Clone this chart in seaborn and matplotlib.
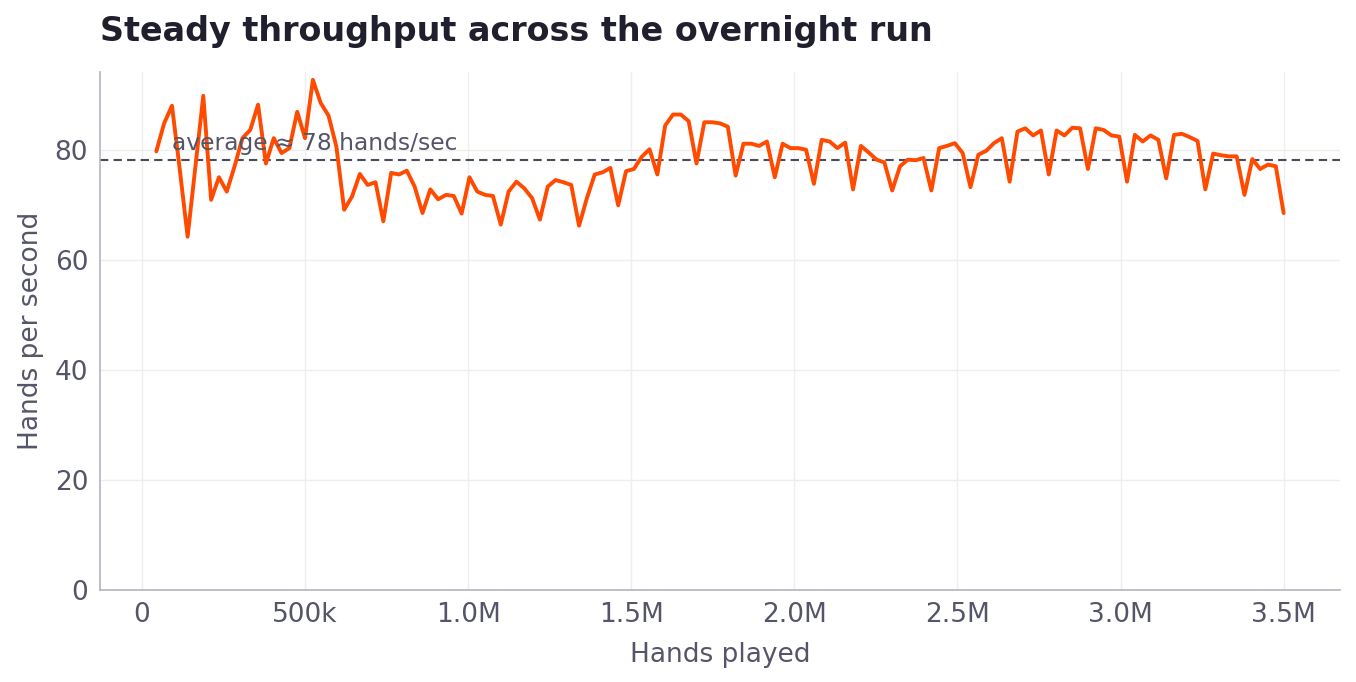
import numpy as np
import pandas as pd
import matplotlib
matplotlib.use("Agg")
import matplotlib.pyplot as plt
from matplotlib.ticker import FuncFormatter
import seaborn as sns

# Hands played (x) — evenly spaced samples
hands = np.arange(44_000, 3_500_001, 24_000)

# Hands per second (y)
throughput = [
    79.7, 84.8, 88.0, 76.4, 64.2, 77.0, 89.8, 70.9, 75.0, 72.4,
    77.0, 82.1, 83.6, 88.2, 77.5, 82.1, 79.4, 80.3, 86.9, 82.1,
    92.7, 88.5, 86.2, 80.6, 69.1, 71.5, 75.6, 73.6, 74.1, 67.0,
    75.8, 75.5, 76.2, 73.3, 68.5, 72.8, 71.0, 71.8, 71.6, 68.4,
    75.0, 72.4, 71.8, 71.6, 66.4, 72.4, 74.2, 73.0, 71.2, 67.3,
    73.3, 74.5, 74.1, 73.6, 66.2, 71.2, 75.5, 75.9, 76.7, 69.9,
    76.1, 76.5, 78.7, 80.1, 75.5, 84.4, 86.4, 86.4, 85.2, 77.5,
    85.0, 85.0, 84.8, 84.2, 75.3, 81.1, 81.1, 80.7, 81.5, 75.0,
    81.1, 80.3, 80.3, 80.0, 73.8, 81.8, 81.5, 80.3, 81.3, 72.8,
    80.7, 79.5, 78.2, 77.7, 72.6, 77.0, 78.2, 78.1, 78.5, 72.6,
    80.3, 80.7, 81.2, 79.4, 73.2, 79.1, 79.8, 81.2, 82.1, 74.2,
    83.3, 83.9, 82.6, 83.5, 75.5, 83.5, 82.6, 84.0, 83.9, 76.5,
    83.9, 83.6, 82.6, 82.4, 74.2, 82.7, 81.5, 82.6, 81.8, 74.8,
    82.7, 82.9, 82.3, 81.6, 72.8, 79.3, 79.0, 78.8, 78.8, 71.8,
    78.3, 76.5, 77.3, 77.0, 68.5,
]

title_text = "Steady throughput across the overnight run"
x_label = "Hands played"
y_label = "Hands per second"

df = pd.DataFrame({"hands": hands, "rate": throughput})
avg = float(np.mean(throughput))

sns.set_theme(style="whitegrid")
plt.rcParams["font.family"] = ["DejaVu Sans"]

TEXT = "#55556a"
TITLE = "#1f1f2e"
LINE = "#ff4a00"
SPINE = "#b4b4be"

fig, ax = plt.subplots(figsize=(13.56, 6.82), dpi=100)
fig.subplots_adjust(left=0.0737, right=0.9882, top=0.8944, bottom=0.1349)

sns.lineplot(data=df, x="hands", y="rate", ax=ax, color=LINE, linewidth=2.8)

ax.axhline(avg, color="#4a4a5e", linestyle=(0, (4, 2.5)), linewidth=1.5, zorder=1)
ax.text(92_000, avg + 1.0, f"average \u2248 {avg:.0f} hands/sec", color=TEXT,
        fontsize=16.8, ha="left", va="bottom")

ax.set_ylim(bottom=0)

def fmt(v, pos):
    if v == 0:
        return "0"
    if abs(v) >= 1_000_000:
        return f"{v/1e6:.1f}M"
    return f"{v/1e3:.0f}k"

ax.xaxis.set_major_formatter(FuncFormatter(fmt))
ax.set_xticks(np.arange(0, 3_500_001, 500_000))

ax.set_title(title_text, loc="left", fontsize=24, fontweight="bold", color=TITLE, pad=22)
ax.set_xlabel(x_label, fontsize=19, color=TEXT, labelpad=10)
ax.set_ylabel(y_label, fontsize=19, color=TEXT, labelpad=8)

ax.tick_params(axis="both", labelsize=19, colors=TEXT, length=5, width=1.2, color=SPINE)
ax.grid(True, color="#eeeeee", linewidth=1)
for s in ["top", "right"]:
    ax.spines[s].set_visible(False)
for s in ["left", "bottom"]:
    ax.spines[s].set_color(SPINE)
    ax.spines[s].set_linewidth(1.2)

fig.savefig("out.png", dpi=100)
